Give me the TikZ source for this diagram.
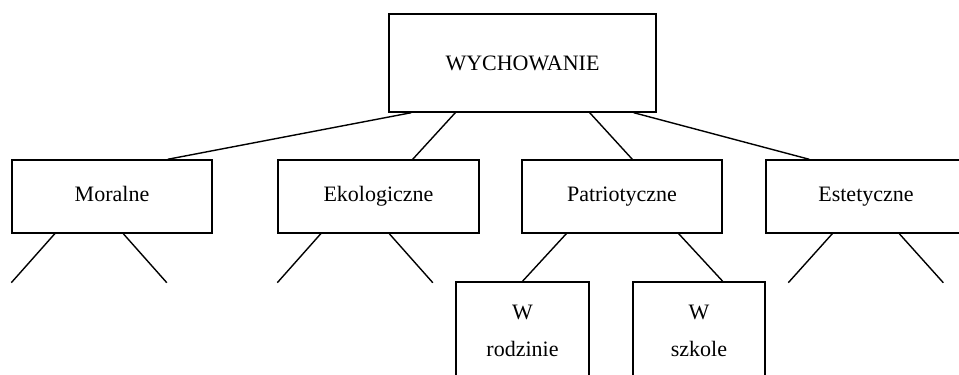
\documentclass[tikz,border=0pt]{standalone}
\usepackage{fontspec}
\setmainfont{Liberation Serif}
\tikzset{
	box/.style={draw, line width=1.4pt, inner sep=0pt, align=center,
		minimum width=200pt, minimum height=73pt,
		font=\fontsize{22}{37}\selectfont},
	branch/.style={box, text height=15pt, text depth=5pt},
	link/.style={line width=1.4pt}
}

\begin{document}
\begin{tikzpicture}[x=1pt, y=-1pt]
    \path[use as bounding box, clip](0, 0) rectangle (959, 375);
    % main box and its four branches
    \node[box, minimum width=267pt, minimum height=98pt](wych) at (522.5, 63){WYCHOWANIE};
    \node[branch](moral) at (112, 196.5){Moralne};
    \node[branch, minimum width=201pt](eko) at (378.5, 196.5){Ekologiczne};
    \node[branch](patr) at (622, 196.5){Patriotyczne};
    \node[branch](est) at (866, 196.5){Estetyczne};
    \node[box, minimum width=133pt, minimum height=98pt](rodz) at (522.5, 331){W\\rodzinie};
    \node[box, minimum width=132pt, minimum height=98pt](szk) at (699, 331){W\\szkole};
    \draw[link]([xshift=23pt]wych.south west)--([xshift=-45pt]moral.north east);
    \draw[link]([xshift=67pt]wych.south west)--([xshift=-67pt]eko.north east);
    \draw[link]([xshift=-67pt]wych.south east)--([xshift=111pt]patr.north west);
    \draw[link]([xshift=-23pt]wych.south east)--([xshift=44pt]est.north west);
    \draw[link]([xshift=45pt]patr.south west)--(rodz.north);
    \draw[link]([xshift=-44pt]patr.south east)--([xshift=-43pt]szk.north east);
    % open stubs
    \foreach \b in {moral, eko}{
        \coordinate(\b-l) at ([yshift=-49pt]\b.south west);
        \coordinate(\b-r) at ([xshift=155.5pt, yshift=-49pt]\b.south west);
        \draw[link]([xshift=43.5pt]\b.south west)--(\b-l);
        \draw[link]([xshift=112pt]\b.south west)--(\b-r);
    }
    \coordinate(est-l) at ([xshift=23pt, yshift=-49pt]est.south west);
    \coordinate(est-r) at ([xshift=178pt, yshift=-49pt]est.south west);
    \draw[link]([xshift=67pt]est.south west)--(est-l);
    \draw[link]([xshift=134pt]est.south west)--(est-r);
\end{tikzpicture}
\end{document}
